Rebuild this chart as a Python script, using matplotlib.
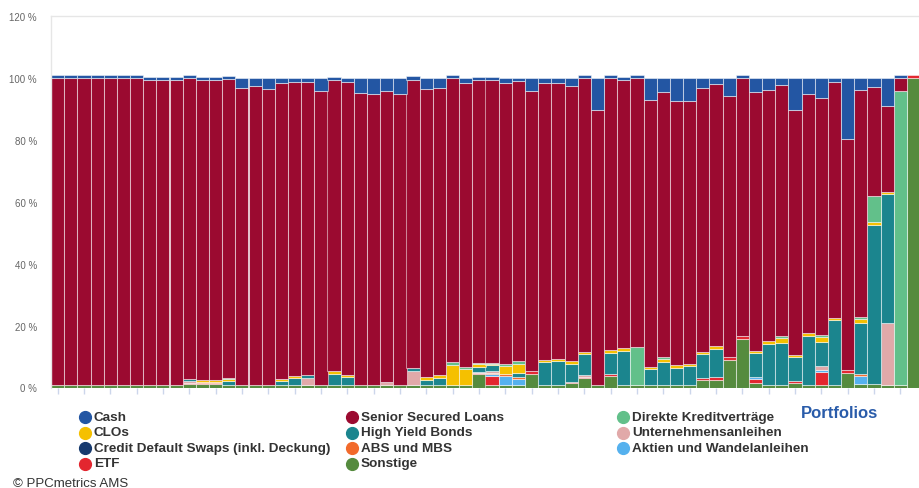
import matplotlib.pyplot as plt
import numpy as np
from matplotlib.lines import Line2D

plt.rcParams['font.family'] = ['Liberation Sans', 'DejaVu Sans']

# Portfolio allocations in %, one value per portfolio (66 portfolios)
sonstige = [0.8, 0.8, 0.8, 0.8, 0.8, 0.8, 0.8, 0.8, 0.8, 0.8, 1.2,
            1.0, 1.0, 0.8, 0.8, 0.8, 0.8, 0.8, 0.8, 0.8, 0.8, 0.8,
            0.8, 0.8, 0.8, 0.8, 0.8, 0.8, 0.8, 0.8, 0.8, 0.8, 4.3,
            0.8, 0.8, 0.8, 4.5, 0.8, 0.8, 1.3, 3.0, 0.8, 3.6, 0.8,
            0.8, 0.8, 0.8, 0.8, 0.8, 2.4, 2.5, 8.9, 15.6, 1.6, 0.8,
            0.8, 1.3, 0.8, 0.8, 0.8, 4.8, 1.0, 1.0, 0.8, 0.8, 100.0]
etf = [0, 0, 0, 0, 0, 0, 0, 0, 0, 0, 0.4,
       0.4, 0.4, 0, 0, 0, 0, 0, 0, 0, 0, 0,
       0, 0, 0, 0, 0, 0, 0, 0, 0, 0, 0.4,
       3.0, 0, 0, 0.7, 0, 0, 0.6, 0.5, 0, 0.9, 0,
       0, 0, 0, 0, 0, 0.6, 1.0, 1.1, 0.9, 1.1, 0,
       0, 0.9, 0, 4.1, 0, 1.0, 0, 0, 0, 0, 0.8]
aktien = [0, 0, 0, 0, 0, 0, 0, 0, 0, 0, 0,
          0, 0, 0, 0, 0, 0, 0, 0, 0, 0, 0,
          0, 0, 0, 0, 0, 0, 0, 0, 0, 0, 0,
          0.6, 3.0, 1.9, 0, 0, 0, 0, 0, 0, 0, 0,
          0, 0, 0, 0, 0, 0, 0, 0, 0, 0.8, 0,
          0, 0, 0, 0.9, 0, 0, 2.7, 0, 0, 0, 0]
abs_mbs = [0, 0, 0, 0, 0, 0, 0, 0, 0, 0, 0,
           0.4, 0.4, 0, 0, 0, 0, 0, 0, 0, 0, 0,
           0, 0, 0, 0, 0, 0, 0, 0, 0, 0, 0,
           0.3, 0.7, 0.6, 0, 0, 0, 0, 0, 0, 0, 0,
           0, 0, 0, 0, 0, 0, 0, 0, 0, 0, 0,
           0, 0, 0, 0, 0, 0, 0.5, 0, 0, 0, 0]
cds = [0] * 66
unternehmen = [0, 0, 0, 0, 0, 0, 0, 0, 0, 0, 0.4,
               0, 0, 0, 0, 0, 0, 0, 0, 2.4, 0, 0,
               0, 0, 0, 0.9, 0, 4.6, 0, 0, 0, 0, 0.4,
               0.6, 0, 0, 0, 0, 0, 0, 0.4, 0, 0, 0,
               0, 0, 0, 0, 0, 0, 0, 0, 0, 0, 0,
               0, 0, 0, 1.0, 0, 0, 0, 0, 20.0, 0, 0]
high_yield = [0, 0, 0, 0, 0, 0, 0, 0, 0, 0, 0.6,
              0, 0, 1.4, 0, 0, 0, 1.2, 2.2, 0.7, 0, 3.6,
              2.5, 0, 0, 0, 0, 0.9, 1.6, 2.4, 0, 0, 1.6,
              1.9, 0, 1.3, 0, 7.3, 7.6, 5.8, 6.8, 0, 6.8, 10.9,
              0, 5.1, 7.5, 5.6, 6.0, 7.8, 9.0, 0, 0, 7.5, 13.3,
              13.6, 7.5, 15.8, 8.0, 21.0, 0, 16.7, 51.5, 41.7, 0, 0]
clos = [0, 0, 0, 0, 0, 0, 0, 0, 0, 0, 0,
        0.5, 0.5, 0.7, 0, 0, 0, 0.7, 0.8, 0, 0, 0.8,
        0.7, 0, 0, 0, 0, 0, 0.9, 0.8, 6.5, 5.2, 0.8,
        0.5, 2.5, 3.0, 0, 0.8, 0.9, 0.9, 0.9, 0, 0.9, 1.0,
        0, 0.8, 0.8, 0.8, 0.9, 0.8, 0.8, 0, 0, 0.9, 0.8,
        1.5, 0.9, 0.9, 1.5, 0.8, 0, 1.1, 0.8, 0.7, 0, 0]
direkt = [0, 0, 0, 0, 0, 0, 0, 0, 0, 0, 0,
          0, 0, 0.3, 0, 0, 0, 0.2, 0, 0, 0, 0,
          0, 0, 0, 0, 0, 0, 0, 0, 0.8, 0.7, 0.5,
          0.3, 0.7, 0.8, 0, 0, 0, 0, 0, 0, 0, 0,
          12.2, 0, 0.6, 0, 0, 0, 0, 0, 0, 0, 0,
          0.8, 0, 0, 0.7, 0, 0, 0.7, 8.6, 0, 95.1, 0]
ssl = [99.2, 99.2, 99.2, 99.2, 99.2, 99.2, 99.2, 98.5, 98.5, 98.5, 97.4,
       97.0, 97.0, 96.5, 96.0, 96.7, 95.7, 95.5, 94.8, 94.7, 95.1, 94.1,
       94.8, 94.4, 94.1, 94.0, 93.9, 93.1, 93.1, 92.6, 91.9, 91.7, 91.4,
       91.4, 90.5, 90.5, 90.7, 89.6, 89.2, 88.9, 88.4, 88.7, 87.8, 86.7,
       87.0, 86.3, 85.9, 85.5, 84.7, 85.1, 84.8, 84.1, 83.5, 83.5, 81.2,
       80.9, 79.0, 77.2, 76.5, 76.0, 74.4, 73.4, 35.1, 27.7, 4.1, 0.0]
cash = [0.9, 0.9, 0.9, 0.9, 0.9, 0.9, 0.9, 0.9, 0.9, 0.9, 0.8,
        0.9, 0.9, 0.9, 3.2, 2.5, 3.5, 1.6, 1.4, 1.4, 4.1, 0.9,
        1.2, 4.8, 5.1, 4.3, 5.3, 1.2, 3.6, 3.4, 0.8, 1.6, 0.9,
        0.9, 1.8, 1.1, 4.1, 1.5, 1.5, 2.5, 0.8, 10.5, 0.8, 0.9,
        0.8, 7.0, 4.4, 7.3, 7.6, 3.3, 1.9, 5.9, 0.8, 4.6, 3.9,
        2.4, 10.4, 5.3, 6.5, 1.4, 19.8, 3.9, 3.0, 9.1, 0.8, 0.0]

y_ticks = [0, 20, 40, 60, 80, 100, 120]

colors = {
    'Cash': '#2356a3',
    'CLOs': '#f5c000',
    'Credit Default Swaps (inkl. Deckung)': '#173a6e',
    'ETF': '#e3262f',
    'Senior Secured Loans': '#9b0a30',
    'High Yield Bonds': '#1b858e',
    'ABS und MBS': '#f26a2b',
    'Sonstige': '#558b3e',
    'Direkte Kreditverträge': '#62c08a',
    'Unternehmensanleihen': '#e1a9a9',
    'Aktien und Wandelanleihen': '#55b1ee',
}

# stacked from the bottom up
stack = [
    ('Sonstige', sonstige),
    ('ETF', etf),
    ('Aktien und Wandelanleihen', aktien),
    ('ABS und MBS', abs_mbs),
    ('Credit Default Swaps (inkl. Deckung)', cds),
    ('Unternehmensanleihen', unternehmen),
    ('High Yield Bonds', high_yield),
    ('CLOs', clos),
    ('Direkte Kreditverträge', direkt),
    ('Senior Secured Loans', ssl),
    ('Cash', cash),
]

W, H = 920, 489
fig = plt.figure(figsize=(W / 100, H / 100), dpi=100)
ax = fig.add_axes([51 / W, (H - 388.5) / H, 869 / W, 371.5 / H])

x = np.arange(len(ssl))
bottom = np.zeros(len(x))
for name, vals in stack:
    vals = np.asarray(vals, dtype=float)
    keep = vals > 0
    ax.bar(x[keep], vals[keep], bottom=bottom[keep], width=1.0,
           color=colors[name], edgecolor=(1, 1, 1, 0.5), linewidth=0.75)
    bottom += vals

ax.set_xlim(-0.5, len(x) - 0.5)
ax.set_ylim(0, 120)
ax.set_yticks(y_ticks)
ax.set_yticklabels([f'{v} %' for v in y_ticks])
ax.tick_params(axis='y', length=0, pad=10, labelsize=7, labelcolor='#666666')
ax.set_xticks(x[::2])
ax.set_xticklabels([])
ax.tick_params(axis='x', length=4, width=1, color='#ccd6eb')

for side in ['top', 'left', 'right']:
    ax.spines[side].set_color('#e6e6e6')
    ax.spines[side].set_linewidth(1)
ax.spines['bottom'].set_visible(False)

# legend in three columns below the bars
legend_order = ['Cash', 'CLOs', 'Credit Default Swaps (inkl. Deckung)', 'ETF',
                'Senior Secured Loans', 'High Yield Bonds', 'ABS und MBS', 'Sonstige',
                'Direkte Kreditverträge', 'Unternehmensanleihen', 'Aktien und Wandelanleihen']
col_x = [85, 352, 623]
row_y = [418, 433.5, 449, 464.5]
for i, label in enumerate(legend_order):
    mx, my = col_x[i // 4], row_y[i % 4]
    fig.add_artist(Line2D([mx / W], [1 - my / H], marker='o', markersize=8.5,
                          color=colors[label], linestyle='', transform=fig.transFigure))
    fig.text((mx + 9) / W, 1 - my / H, label, fontsize=9.7, fontweight='bold',
             color='#333333', ha='left', va='center')

fig.text(840 / W, 1 - 414 / H, 'Portfolios', fontsize=12, fontweight='bold',
         color='#2a5caa', ha='center', va='center')
fig.text(13 / W, 1 - 487 / H, '© PPCmetrics AMS', fontsize=9.5,
         color='#333333', ha='left', va='baseline')

fig.savefig('out.png', dpi=100)
